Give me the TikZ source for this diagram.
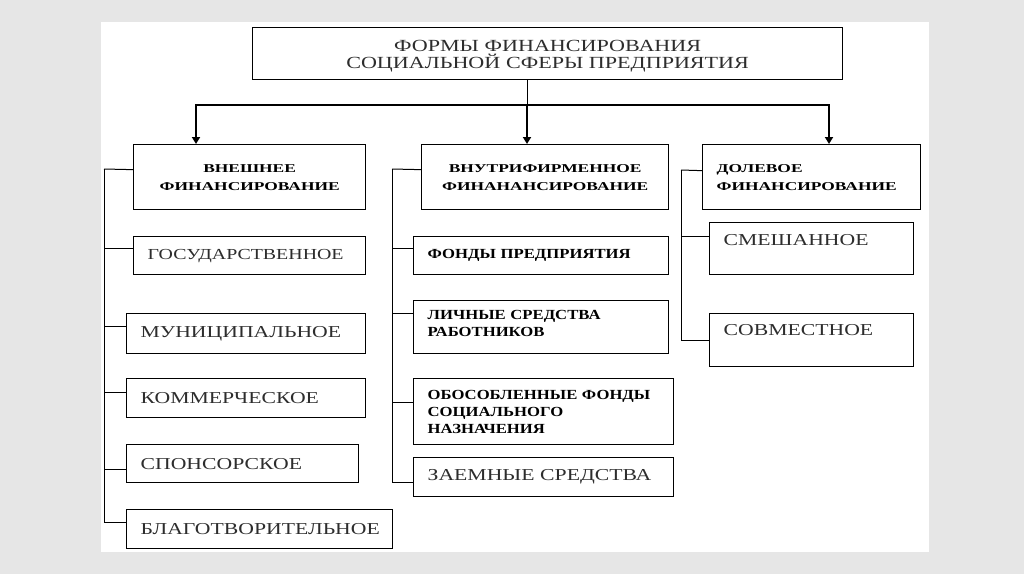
\documentclass[tikz,border=0pt]{standalone}
\usepackage{fontspec}
\setmainfont{Liberation Serif}
\newfontfamily\titlefont[FakeStretch=1.3]{Liberation Serif}
\newfontfamily\headfont[FakeStretch=1.45]{Liberation Serif}
\newfontfamily\itemfont[FakeStretch=1.3]{Liberation Serif}
\newfontfamily\smallbold[FakeStretch=1.2]{Liberation Serif}
\usetikzlibrary{arrows.meta,positioning,calc}
\definecolor{pagegray}{RGB}{230,230,230}
\definecolor{inkgray}{RGB}{45,45,45}
\tikzset{
  frame/.style={draw, line width=1.3pt, anchor=north west, inner sep=0pt, text=inkgray},
  titlebox/.style={frame, align=center, inner xsep=14pt, font=\titlefont\fontsize{17}{17}\selectfont},
  headbox/.style={frame, align=center, text=black, font=\headfont\bfseries\fontsize{12}{18}\selectfont},
  itembox/.style={frame, align=left, inner xsep=14pt, font=\itemfont\fontsize{16.7}{18}\selectfont},
  bolditem/.style={itembox, text=black, font=\smallbold\bfseries\fontsize{13.9}{17}\selectfont},
  link/.style={line width=1pt},
  arrow/.style={-{Triangle[width=8pt,length=7pt]}, line width=2pt},
}

\begin{document}
\begin{tikzpicture}[x=1pt, y=-1pt]
  % page and sheet
  \useasboundingbox (0,0) rectangle (1024,574);
  \fill[pagegray] (0,0) rectangle (1024,574);
  \fill[white] (101,22) rectangle (929,552);

  % top
  \node[titlebox, text width=562pt, text height=23.5pt, text depth=28.5pt] (title) at (252,27)
    {ФОРМЫ ФИНАНСИРОВАНИЯ\\СОЦИАЛЬНОЙ СФЕРЫ ПРЕДПРИЯТИЯ};

  % three forms
  \node[headbox, minimum width=232pt, minimum height=65pt] (ext) at (133,144)
    {ВНЕШНЕЕ\\ФИНАНСИРОВАНИЕ};
  \node[headbox, minimum width=247pt, minimum height=65pt] (int) at (421,144)
    {ВНУТРИФИРМЕННОЕ\\ФИНАНАНСИРОВАНИЕ};
  \node[headbox, align=left, inner xsep=14pt, text width=190pt, minimum height=65pt] (share) at (702,144)
    {ДОЛЕВОЕ\\ФИНАНСИРОВАНИЕ};

  \coordinate (busL) at (196,105);
  \coordinate (busM) at (527,105);
  \coordinate (busR) at (829,105);
  \draw[link] (title.south -| busM) -- (busM);
  \draw[arrow] (busM) -| (busL |- ext.north);
  \draw[arrow] (busM) -| (busR |- share.north);
  \draw[arrow] (busM) -- (busM |- int.north);

  % external
  \node[itembox, text width=204pt, minimum height=38pt, font=\itemfont\fontsize{15.3}{18}\selectfont] (gos) at (133,236) {ГОСУДАРСТВЕННОЕ};
  \node[itembox, text width=211pt, minimum height=40pt] (mun) at (126,313) {МУНИЦИПАЛЬНОЕ};
  \node[itembox, text width=211pt, minimum height=39pt] (kom) at (126,378) {КОММЕРЧЕСКОЕ};
  \node[itembox, text width=204pt, minimum height=38pt] (spon) at (126,444) {СПОНСОРСКОЕ};
  \node[itembox, text width=238pt, minimum height=39pt] (blag) at (126,509) {БЛАГОТВОРИТЕЛЬНОЕ};

  \coordinate (lspine) at (104,169);
  \draw[link] ([yshift=7.5pt]ext.west) -- (lspine);
  \draw[link] (lspine) |- ([yshift=7pt]gos.west);
  \draw[link] (lspine) |- ([yshift=7pt]mun.west);
  \draw[link] (lspine) |- ([yshift=5.5pt]kom.west);
  \draw[link] (lspine) |- ([yshift=-6pt]spon.west);
  \draw[link] (lspine) |- ([yshift=6.5pt]blag.west);

  % in-house
  \node[bolditem, text width=227pt, minimum height=38pt] (fund) at (413,236) {ФОНДЫ ПРЕДПРИЯТИЯ};
  \node[bolditem, text width=227pt, inner ysep=0pt, text height=19pt, text depth=34pt] (staff) at (413,300) {ЛИЧНЫЕ СРЕДСТВА\\РАБОТНИКОВ};
  \node[bolditem, text width=232pt, minimum height=66pt] (sepfund) at (413,378)
    {ОБОСОБЛЕННЫЕ ФОНДЫ\\СОЦИАЛЬНОГО\\НАЗНАЧЕНИЯ};
  \node[itembox, text width=232pt, minimum height=39pt] (loan) at (413,457) {ЗАЕМНЫЕ СРЕДСТВА};

  \coordinate (mspine) at (392,169);
  \draw[link] ([yshift=7.5pt]int.west) -- (mspine);
  \draw[link] (mspine) |- ([yshift=7pt]fund.west);
  \draw[link] (mspine) |- ([yshift=13.5pt]staff.west);
  \draw[link] (mspine) |- ([yshift=9pt]sepfund.west);
  \draw[link] (mspine) |- ([yshift=-5.5pt]loan.west);

  % shared
  \node[itembox, text width=176pt, inner ysep=0pt, text height=22.5pt, text depth=29.5pt] (mixed) at (709,222) {СМЕШАННОЕ};
  \node[itembox, text width=176pt, inner ysep=0pt, text height=21.5pt, text depth=31.5pt] (joint) at (709,313) {СОВМЕСТНОЕ};

  \coordinate (rspine) at (681,170);
  \draw[link] ([yshift=6.5pt]share.west) -- (rspine);
  \draw[link] (rspine) |- ([yshift=12pt]mixed.west);
  \draw[link] (rspine) |- (joint.west);
\end{tikzpicture}
\end{document}
